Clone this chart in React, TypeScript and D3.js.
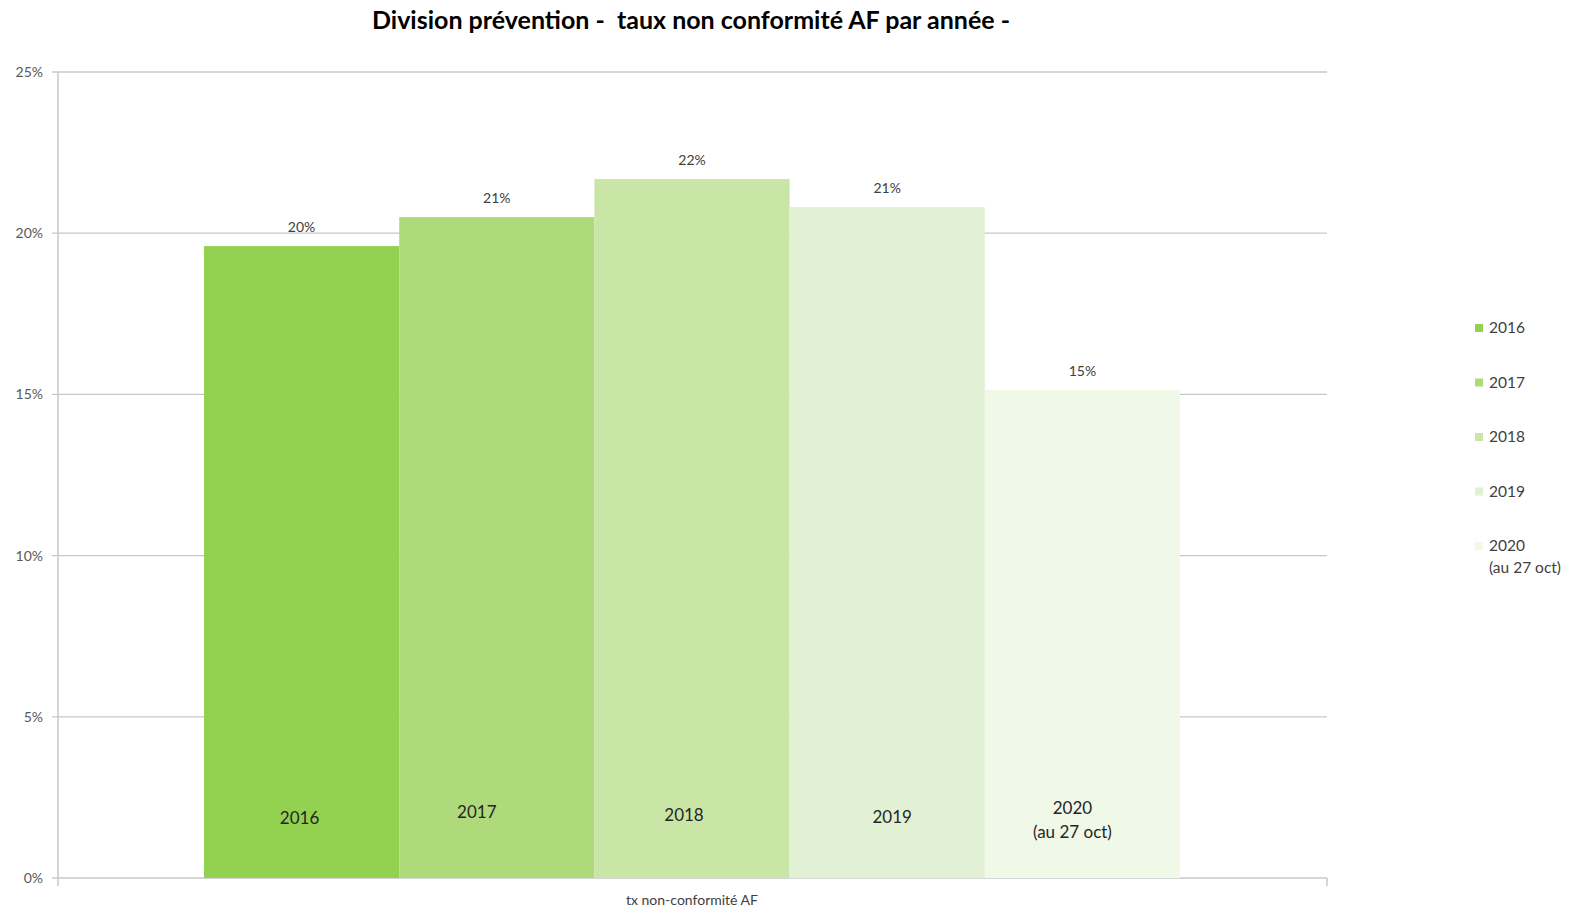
import React from "react";
import * as d3 from "d3";

const categories = ["2016", "2017", "2018", "2019", "2020"];
const values = [0.196, 0.205, 0.2168, 0.2081, 0.1514];
const valueLabels = ["20%", "21%", "22%", "21%", "15%"];
const legendLabels = [["2016"], ["2017"], ["2018"], ["2019"], ["2020", "(au 27 oct)"]];
const barLabels = [["2016"], ["2017"], ["2018"], ["2019"], ["2020", "(au 27 oct)"]];
const colors = ["#93d150", "#aeda7c", "#c9e6a6", "#e2f0d4", "#f0f8e8"];
const yTicks = [0, 0.05, 0.1, 0.15, 0.2, 0.25];
const xCategory = "tx non-conformité AF";
const title = "Division prévention -  taux non conformité AF par année -";

const W = 1572;
const H = 913;
const FONT = "Lato, 'Open Sans', sans-serif";

export default function App() {
  const left = 57, right = 1327, top = 72, bottom = 878;
  const y = d3.scaleLinear().domain([0, 0.25]).range([bottom, top]);
  const outer = d3.scaleBand().domain([xCategory]).range([left, right]).paddingInner(0).paddingOuter(0.1506);
  const x = d3.scaleBand().domain(categories).range([outer(xCategory)!, outer(xCategory)! + outer.bandwidth()]).padding(0);
  // manual label nudges (as in reference)
  const labDx = [-2, -20, -8, 5, -10];
  const labDy = [3, -3, 0, 2, -7];
  const legendY = d3.scalePoint().domain(categories).range([328, 546]);

  return (
    <svg width={W} height={H} style={{ position: "absolute", left: 0, top: 0, background: "#fff" }} fontFamily={FONT}>
      <text x={691} y={29} textAnchor="middle" fontSize={25} fontWeight={700} fill="#000" style={{ whiteSpace: "pre" }}>{title}</text>
      {yTicks.map((t) => (
        <g key={t}>
          <line x1={left - 5} x2={right} y1={y(t)} y2={y(t)} stroke="#c8c8c8" strokeWidth={1.3} />
          <text x={43} y={y(t) + 5} textAnchor="end" fontSize={14} fill="#595959">{d3.format(".0%")(t)}</text>
        </g>
      ))}
      <line x1={left + 1} x2={left + 1} y1={top} y2={bottom + 8} stroke="#c8c8c8" strokeWidth={1.5} />
      <line x1={right} x2={right} y1={bottom} y2={bottom + 8} stroke="#c8c8c8" strokeWidth={1.5} />
      {categories.map((c, i) => (
        <rect key={c} x={x(c)} y={y(values[i])} width={x.bandwidth()} height={bottom - y(values[i])} fill={colors[i]} />
      ))}
      {categories.map((c, i) => (
        <text key={c} x={x(c)! + x.bandwidth() / 2} y={y(values[i]) - 14} textAnchor="middle" fontSize={14} fill="#404040">{valueLabels[i]}</text>
      ))}
      {categories.map((c, i) => (
        <text key={c} x={x(c)! + x.bandwidth() / 2 + labDx[i]} y={y(0.0195) + labDy[i] + 6} textAnchor="middle" fontSize={17} fill="#262626">
          {barLabels[i].map((l, j) => (
            <tspan key={j} x={x(c)! + x.bandwidth() / 2 + labDx[i]} dy={j === 0 ? 0 : 24}>{l}</tspan>
          ))}
        </text>
      ))}
      <text x={outer(xCategory)! + outer.bandwidth() / 2} y={905} textAnchor="middle" fontSize={14} fill="#404040">{xCategory}</text>
      {categories.map((c, i) => (
        <g key={c}>
          <rect x={1475} y={legendY(c)! - 4} width={8} height={8} fill={colors[i]} />
          <text x={1489} y={legendY(c)! + 5} fontSize={15.5} fill="#404040">
            {legendLabels[i].map((l, j) => (
              <tspan key={j} x={1489} dy={j === 0 ? 0 : 22}>{l}</tspan>
            ))}
          </text>
        </g>
      ))}
    </svg>
  );
}
